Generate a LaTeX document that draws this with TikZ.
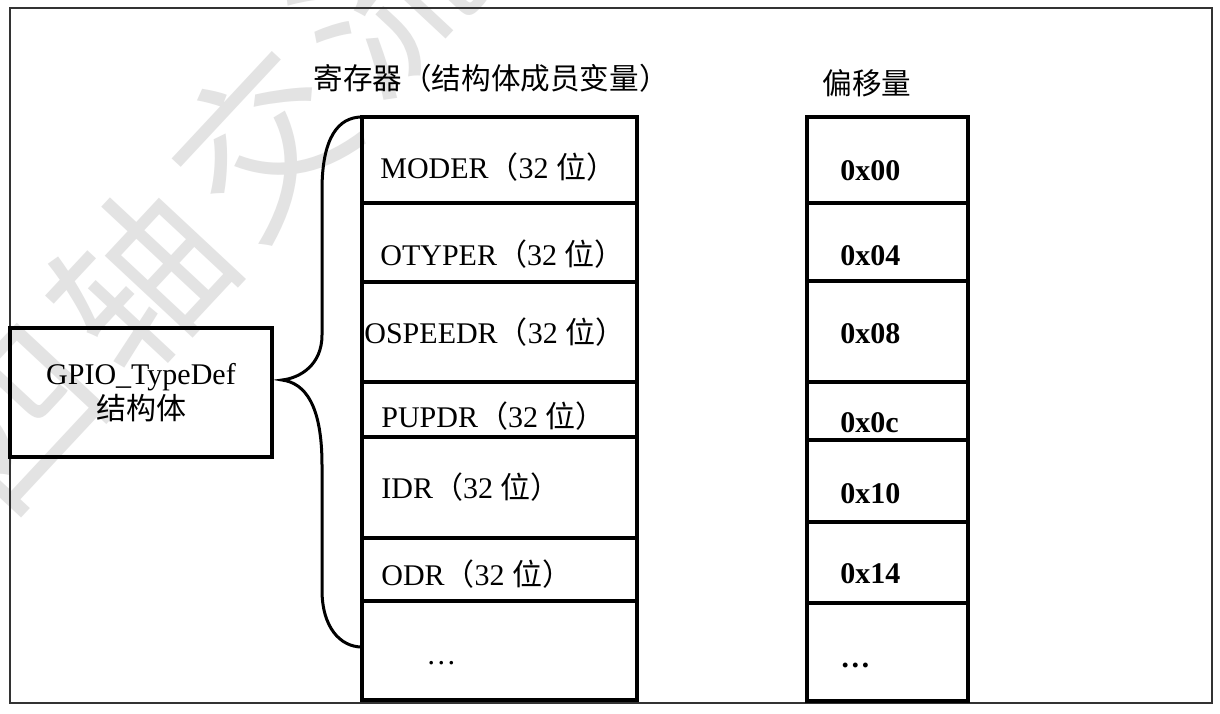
\documentclass[tikz,border=0pt]{standalone}
\usepackage{fontspec}
\setmainfont{Liberation Serif}
\newfontfamily\cjk{Noto Sans CJK SC}
\usetikzlibrary{fit}
\begin{document}
\begin{tikzpicture}[x=0.5pt,y=-0.5pt,
  cell/.style={draw=black, line width=1.8pt, inner sep=0pt, rectangle},
  reglabel/.style={anchor=base west, inner sep=0pt, font=\fontsize{15}{18}\selectfont},
  offlabel/.style={anchor=base west, inner sep=0pt, font=\fontsize{15}{18}\selectfont\bfseries},
  heading/.style={inner sep=0pt, font=\fontsize{14.8}{18}\selectfont\cjk},
  wmark/.style={text=black!11, font=\fontsize{85}{85}\selectfont\cjk, rotate=47, inner sep=0pt},
  frame/.style={draw=black!80, line width=1pt},
  bracepath/.style={draw=black, line width=1.5pt}]
\useasboundingbox (0,0) rectangle (1220,713);
\fill[white] (0,0) rectangle (1220,713);
% watermark
\begin{scope}
\clip (0,0) rectangle (1220,713);
\node[wmark] (w1) at (20,420) {四};
\node[wmark] (w2) at (140,280) {轴};
\node[wmark] (w3) at (262,142) {交};
\node[wmark] (w4) at (385,0) {流};
\end{scope}
% outer frame
\node[frame, inner sep=0pt, fit={(10,8) (1212,703)}] (outer) {};
% struct box
\node[cell, fit={(10,328) (272,457)}] (gpio) {};
\node[align=center, inner sep=0pt, font=\fontsize{15}{17.5}\selectfont] (gpiotxt) at (141,393) {GPIO\_TypeDef\\{\cjk 结构体}};
% headings
\node[heading] (h1) at (491,78) {寄存器（结构体成员变量）};
\node[heading] (h2) at (867,83) {偏移量};
% register column
\node[cell, fit={(362,117) (637,203)}] (r1) {};
\node[cell, fit={(362,203) (637,282)}] (r2) {};
\node[cell, fit={(362,282) (637,382)}] (r3) {};
\node[cell, fit={(362,382) (637,437)}] (r4) {};
\node[cell, fit={(362,437) (637,538)}] (r5) {};
\node[cell, fit={(362,538) (637,601)}] (r6) {};
\node[cell, fit={(362,601) (637,700)}] (r7) {};
\node[reglabel] (t1) at (380,178) {MODER{\cjk（}32 {\cjk 位）}};
\node[reglabel] (t2) at (380,265) {OTYPER{\cjk（}32 {\cjk 位）}};
\node[reglabel] (t3) at (364,343) {OSPEEDR{\cjk（}32 {\cjk 位）}};
\node[reglabel] (t4) at (381,427) {PUPDR{\cjk（}32 {\cjk 位）}};
\node[reglabel] (t5) at (381,498) {IDR{\cjk（}32 {\cjk 位）}};
\node[reglabel] (t6) at (381,585) {ODR{\cjk（}32 {\cjk 位）}};
\node[reglabel] (t7) at (426,664) {…};
% offset column
\node[cell, fit={(807,117) (968,203)}] (o1) {};
\node[cell, fit={(807,203) (968,281)}] (o2) {};
\node[cell, fit={(807,281) (968,382)}] (o3) {};
\node[cell, fit={(807,382) (968,440)}] (o4) {};
\node[cell, fit={(807,440) (968,522)}] (o5) {};
\node[cell, fit={(807,522) (968,603)}] (o6) {};
\node[cell, fit={(807,603) (968,701)}] (o7) {};
\node[offlabel] (f1) at (840,180) {0x00};
\node[offlabel] (f2) at (840,265) {0x04};
\node[offlabel] (f3) at (840,343) {0x08};
\node[offlabel] (f4) at (840,432) {0x0c};
\node[offlabel] (f5) at (840,503) {0x10};
\node[offlabel] (f6) at (840,583) {0x14};
\node[offlabel] (f7) at (840,667) {…};
% brace
\coordinate (btop) at (362,117);
\coordinate (btip) at (282,380);
\coordinate (bbot) at (362,647);
\draw[bracepath] (btop) .. controls (338,117) and (322,138) .. (322,190)
  -- (322,335) .. controls (322,365) and (300,378) .. (btip)
  .. controls (305,383) and (322,405) .. (322,465)
  -- (322,590) .. controls (322,627) and (340,647) .. (bbot);
\end{tikzpicture}
\end{document}
